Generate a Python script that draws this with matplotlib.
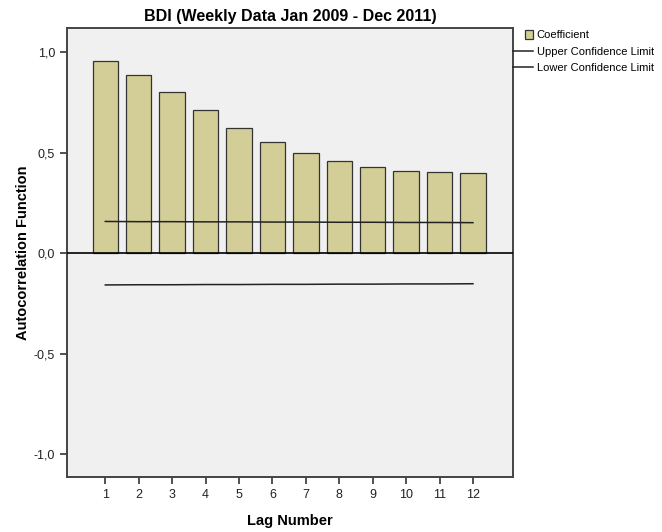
import matplotlib
matplotlib.use("Agg")
import matplotlib.pyplot as plt
from matplotlib.legend_handler import HandlerPatch
from matplotlib.patches import Rectangle
import numpy as np

plt.rcParams['font.family'] = ['Liberation Sans', 'DejaVu Sans']

# ACF coefficients and confidence limits per lag
lags = [1, 2, 3, 4, 5, 6, 7, 8, 9, 10, 11, 12]
acf = [0.957, 0.886, 0.801, 0.713, 0.624, 0.554, 0.501, 0.459, 0.428, 0.410, 0.405, 0.401]
upper = [0.158, 0.157, 0.157, 0.156, 0.156, 0.155, 0.155, 0.154, 0.154, 0.153, 0.153, 0.152]
lower = [-0.158, -0.157, -0.157, -0.156, -0.156, -0.155, -0.155, -0.154, -0.154, -0.153, -0.153, -0.152]
yticks = [-1.0, -0.5, 0.0, 0.5, 1.0]
ytick_labels = ["-1,0", "-0,5", "0,0", "0,5", "1,0"]


def square_patch(legend, orig_handle, xdescent, ydescent, width, height, fontsize):
    # small square swatch at the right end of the handle box
    s = height * 1.1
    return Rectangle((width - s - xdescent, -ydescent + (height - s) / 2), s, s)


fig = plt.figure(figsize=(6.62, 5.32), dpi=100)
ax = fig.add_axes([0.101, 0.103, 0.674, 0.844])
ax.set_facecolor("#f0f0f0")

bars = ax.bar(lags, acf, width=0.76, color="#d3ce97", edgecolor="#333333", linewidth=0.9, zorder=2)
l1, = ax.plot(lags, upper, color="#222222", linewidth=1.1, zorder=3)
l2, = ax.plot(lags, lower, color="#222222", linewidth=1.1, zorder=3)
ax.axhline(0, color="black", linewidth=1.2, zorder=4)

ax.set_xlim(-0.15, 13.2)
ax.set_ylim(-1.115, 1.12)
ax.set_xticks(lags)
ax.set_xticklabels([str(l) for l in lags], fontsize=9, color="#222222")
ax.set_yticks(yticks)
ax.set_yticklabels(ytick_labels, fontsize=9, color="#222222")
ax.tick_params(direction="out", length=5, width=1.2, color="#333333")
for s in ax.spines.values():
    s.set_color("#444444")
    s.set_linewidth(1.4)

ax.set_title("BDI (Weekly Data Jan 2009 - Dec 2011)", fontsize=11.5, fontweight="bold", pad=5)
ax.set_xlabel("Lag Number", fontsize=10.5, fontweight="bold", labelpad=9)
ax.set_ylabel("Autocorrelation Function", fontsize=10.5, fontweight="bold", labelpad=3)

swatch = bars.patches[0]
fig.legend([swatch, l1, l2], ["Coefficient", "Upper Confidence Limit", "Lower Confidence Limit"],
           loc="upper left", bbox_to_anchor=(0.772, 0.947), frameon=False, fontsize=8,
           handlelength=1.8, handletextpad=0.3, labelspacing=0.55, borderaxespad=0, borderpad=0.2,
           handler_map={swatch: HandlerPatch(patch_func=square_patch)})

fig.savefig("out.png", dpi=100)
